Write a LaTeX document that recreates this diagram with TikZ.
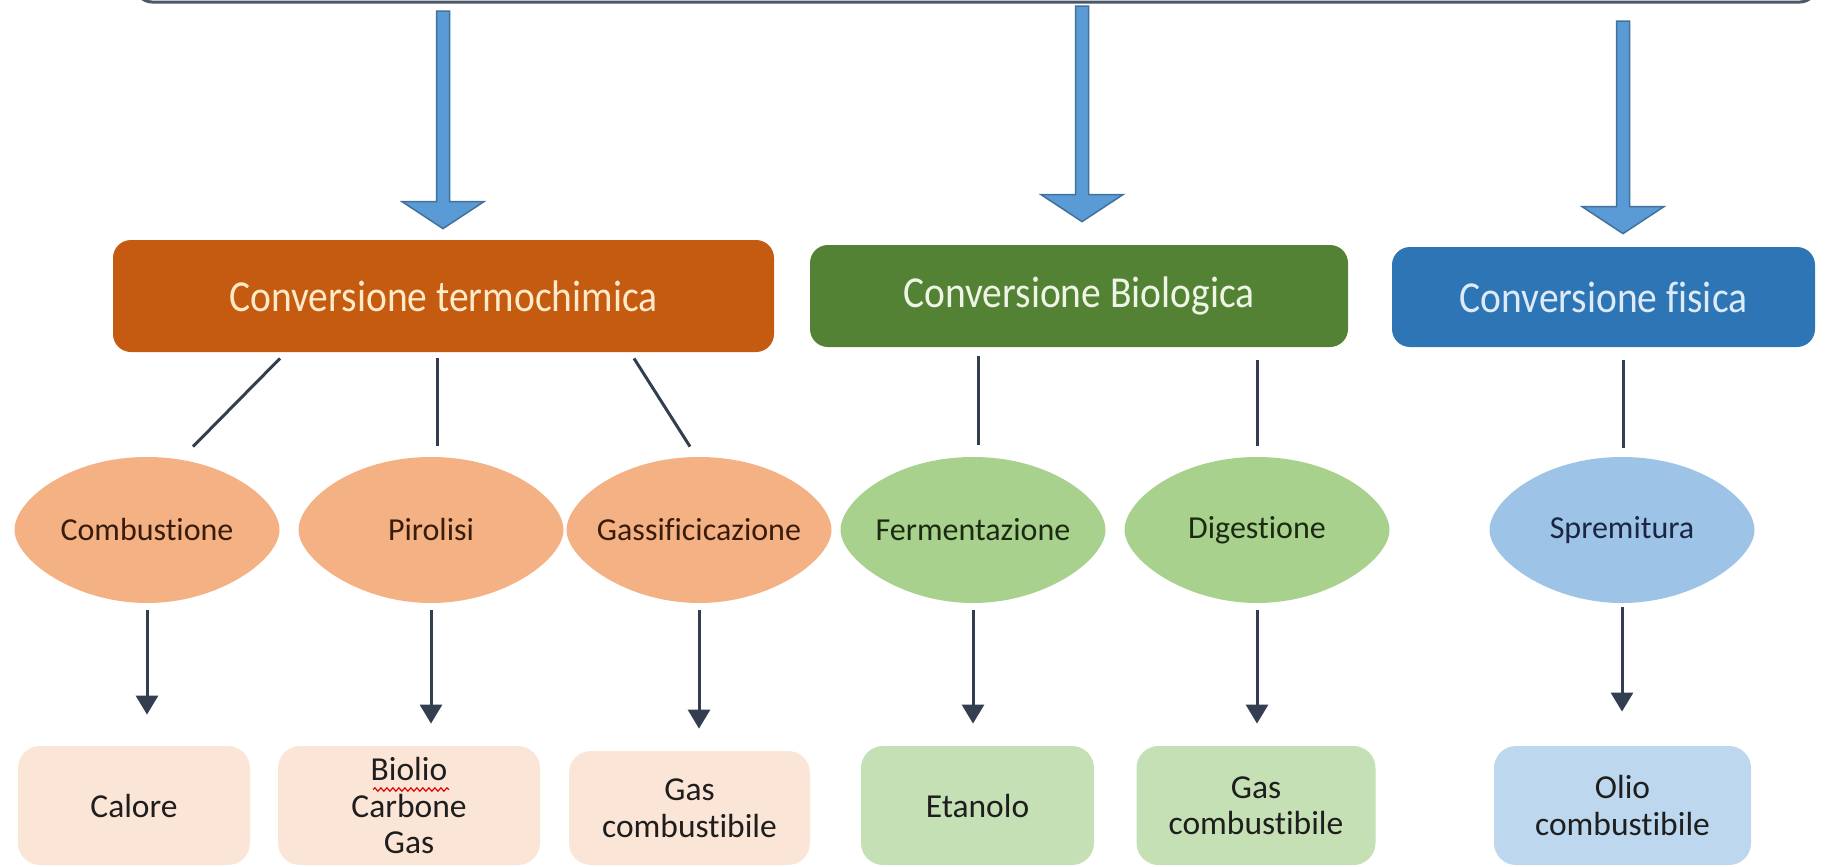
\documentclass[tikz,border=0pt]{standalone}
\usepackage{fontspec}
\setmainfont{Carlito}[Ligatures=NoCommon]
\usetikzlibrary{calc,arrows.meta,decorations.pathmorphing}
\definecolor{orD}{HTML}{C55A11}
\definecolor{grD}{HTML}{548235}
\definecolor{blD}{HTML}{2E75B6}
\definecolor{orM}{HTML}{F4B183}
\definecolor{grM}{HTML}{A9D18E}
\definecolor{blM}{HTML}{9DC3E6}
\definecolor{orL}{HTML}{FBE5D6}
\definecolor{grL}{HTML}{C5E0B4}
\definecolor{blL}{HTML}{BDD7EE}
\definecolor{connC}{HTML}{333F50}
\definecolor{arrF}{HTML}{5B9BD5}
\definecolor{arrB}{HTML}{41719C}
\definecolor{topB}{HTML}{4A5868}
\definecolor{orT}{HTML}{FFEBC8}
\definecolor{grT}{HTML}{EEF5E6}
\definecolor{blT}{HTML}{DDEBF7}
\definecolor{orX}{HTML}{3A1C0C}
\definecolor{grX}{HTML}{1C2A12}
\definecolor{blX}{HTML}{1C2642}
\definecolor{txtC}{HTML}{1E1E1E}

% rounded, bulging diamond of half-width 132.5 and half-height 73 (units)
\newcommand\lensAt[2]{%
  \fill[#2, shift={(#1)}] (-132.5,0) .. controls (-132.5,-29.2) and (-79.5,-73) .. (0,-73)
   .. controls (79.5,-73) and (132.5,-29.2) .. (132.5,0)
   .. controls (132.5,29.2) and (72.9,73) .. (0,73)
   .. controls (-72.9,73) and (-132.5,29.2) .. (-132.5,0) -- cycle;}
\newcommand\lensNode[5]{\lensAt{#2}{#3}\node[lensn, text=#4] (#1) at (#2) {#5};}
\newcommand\blueArr[2]{\draw[barrow] ($(#1)+(-6.5,0)$) -- ($(#2)+(-6.5,-27)$) -- ($(#2)+(-41,-27)$) -- (#2) -- ($(#2)+(41,-27)$) -- ($(#2)+(6.5,-27)$) -- ($(#1)+(6.5,0)$) -- cycle;}

\begin{document}
\begin{tikzpicture}[x=0.5pt,y=-0.5pt,
  topbox/.style={draw=topB, line width=1.5pt, fill=white, rounded corners=8pt, inner sep=0,
    minimum width=840pt, minimum height=27pt},
  barrow/.style={fill=arrF, draw=arrB, line width=0.75pt, line join=miter},
  titlebox/.style={rounded corners=9pt, inner sep=0, font=\fontsize{19.75pt}{22pt}\selectfont},
  lensn/.style={inner sep=0, minimum width=132.5pt, minimum height=73pt, font=\fontsize{16pt}{18pt}\selectfont},
  botbox/.style={rounded corners=11pt, inner sep=0, align=center, text=txtC,
    font=\fontsize{16.75pt}{18.25pt}\selectfont},
  cline/.style={draw=connC, line width=1.5pt},
  darr/.style={draw=connC, line width=1.5pt, -{Triangle[width=11pt,length=9.5pt]}}
]
\useasboundingbox (0,0) rectangle (1831,867);

% source box (cut off at top)
\node[topbox] (src) at (976,-25) {};

% blue arrow start points
\coordinate (t1) at (443,11);
\coordinate (t2) at (1082,6);
\coordinate (t3) at (1623,21);

% category boxes
\node[titlebox, fill=orD, text=orT, minimum width=330.5pt, minimum height=56pt] (thermo) at (443.5,296) {\scalebox{1}[1.12]{Conversione termochimica}};
\node[titlebox, fill=grD, text=grT, minimum width=269pt, minimum height=51pt] (bio) at (1079,296) {\scalebox{1}[1.12]{Conversione Biologica}};
\node[titlebox, fill=blD, text=blT, minimum width=211.5pt, minimum height=50pt] (fis) at (1603.5,297) {\scalebox{1}[1.12]{Conversione fisica}};

\coordinate (e1) at ($(thermo.north -| t1)+(0,-11)$);
\coordinate (e2) at ($(bio.north -| t2)+(0,-23)$);
\coordinate (e3) at ($(fis.north -| t3)+(0,-13)$);
\blueArr{t1}{e1}
\blueArr{t2}{e2}
\blueArr{t3}{e3}

% process shapes
\lensNode{comb}{147,530}{orM}{orX}{Combustione}
\lensNode{piro}{431,530}{orM}{orX}{Pirolisi}
\lensNode{gass}{699,530}{orM}{orX}{Gassificicazione}
\lensNode{ferm}{973,530}{grM}{grX}{Fermentazione}
\lensNode{dige}{1257,530}{grM}{grX}{Digestione}
\lensNode{spre}{1622,530}{blM}{blX}{Spremitura}

% lines from categories to processes
\draw[cline] ($(thermo.south)+(-163.5,6)$) -- ($(comb.north)+(46,-10)$);
\draw[cline] ($(thermo.south)+(-6.5,6)$) -- ($(piro.north)+(6,-11)$);
\draw[cline] ($(thermo.south)+(190.5,6)$) -- ($(gass.north)+(-9,-10)$);
\draw[cline] ($(bio.south)+(-101,9)$) -- ($(ferm.north)+(5,-12)$);
\draw[cline] ($(bio.south)+(178,13)$) -- ($(dige.north)+(0,-11)$);
\draw[cline] ($(fis.south)+(19.5,13)$) -- ($(spre.north)+(1,-9)$);

% products
\node[botbox, fill=orL, minimum width=116pt, minimum height=59.5pt] (calo) at (134,805.5) {Calore};
\node[botbox, fill=orL, minimum width=131pt, minimum height=59.5pt] (biol) at (409,805.5) {Biolio\\Carbone\\Gas};
\node[botbox, fill=orL, minimum width=120.5pt, minimum height=57pt] (gasa) at (689.5,808) {Gas\\combustibile};
\node[botbox, fill=grL, minimum width=116.5pt, minimum height=59.5pt] (etan) at (977.5,805.5) {Etanolo};
\node[botbox, fill=grL, minimum width=119.5pt, minimum height=59.5pt] (gasb) at (1256,805.5) {Gas\\combustibile};
\node[botbox, fill=blL, minimum width=128.5pt, minimum height=59.5pt] (olio) at (1622.5,805.5) {Olio\\combustibile};

\draw[red!85!black, line width=0.6pt, decorate, decoration={snake, amplitude=0.8pt, segment length=3pt}]
  ($(biol.center)+(-36,-16)$) -- ($(biol.center)+(40,-16)$);

% arrows from processes to products
\draw[darr] ([yshift=-3.5pt]comb.south) -- ([yshift=15.5pt]comb.south |- calo.north);
\draw[darr] ([yshift=-3.5pt]piro.south) -- ([yshift=11pt]piro.south |- biol.north);
\draw[darr] ([yshift=-3.5pt]gass.south) -- ([yshift=11pt]gass.south |- gasa.north);
\draw[darr] ([yshift=-3.5pt]ferm.south) -- ([yshift=11pt]ferm.south |- etan.north);
\draw[darr] ([yshift=-3.5pt]dige.south) -- ([yshift=11pt]dige.south |- gasb.north);
\draw[darr] ([yshift=-2pt]spre.south) -- ([yshift=17pt]spre.south |- olio.north);
\end{tikzpicture}
\end{document}
